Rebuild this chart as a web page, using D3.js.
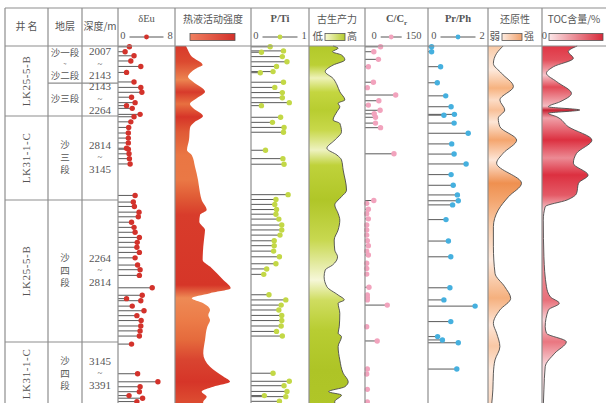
<!DOCTYPE html>
<html>
<head>
<meta charset="utf-8">
<script src="https://cdn.jsdelivr.net/npm/d3@7"></script>
<style>
  body { margin: 0; background: #fff; }
  svg { display: block; }
  text { font-family: "Liberation Serif", "Noto Sans CJK SC", serif; fill: #555; }
  .cjk { font-family: "Noto Sans CJK SC", "Noto Sans", sans-serif; }
</style>
</head>
<body>
<svg id="chart" width="606" height="403"></svg>
<script>
// ---------------- well sections stacked in the log ----------------
const sectionWells = ["LK25-5-B", "LK31-1-C", "LK25-5-B", "LK31-1-C"];
const sectionTop   = [2007, 2814, 2264, 3145];
const sectionBase  = [2264, 3145, 2814, 3391];

// stratigraphic intervals (section index, name, depth range in m)
const intervalSection = [0, 0, 1, 2, 3];
const intervalNames   = ["沙一段~沙二段", "沙三段", "沙三段", "沙四段", "沙四段"];
const intervalTop     = [2007, 2143, 2814, 2264, 3145];
const intervalBase    = [2143, 2264, 3145, 2814, 3391];

// ---------------- samples: [stacked depth (m), value] ----------------
const euSamples = [
  [3,1.6],[21,1.0],[36,2.25],[55,1.8],[75,3.2],[97,1.2],[132,2.25],[152,3.2],[170,3.35],[188,1.9],
  [208,2.4],[219,1.2],[229,2.0],[251,3.1],[260,2.25],[280,1.8],[302,1.5],[324,1.45],[344,1.45],[363,1.45],
  [384,1.2],[388,1.45],[406,1.55],[425,1.6],[446,1.7],[570,2.4],[596,2.15],[613,2.3],[635,2.95],[653,2.85],
  [674,1.9],[694,2.25],[713,2.4],[733,3.0],[752,2.7],[771,2.65],[791,3.0],[812,2.4],[840,2.75],[858,3.1],
  [880,3.0],[928,4.8],[957,3.4],[970,1.2],[978,3.2],[999,2.0],[1017,3.65],[1036,2.65],[1055,3.25],[1076,3.2],
  [1095,3.1],[1115,3.0],[1146,1.9],[1260,2.75],[1291,5.6],[1310,3.1],[1329,3.0],[1344,1.55],[1354,3.45],[1367,2.65]
];
const ptiSamples = [
  [3,0.33],[18,0.56],[23,0.18],[39,0.54],[58,0.62],[75,0.44],[94,0.38],[98,0.16],[133,0.56],[152,0.41],
  [171,0.54],[190,0.54],[208,0.66],[219,0.18],[262,0.51],[282,0.37],[302,0.57],[321,0.56],[392,0.25],[425,0.55],
  [447,0.57],[567,0.64],[586,0.43],[605,0.41],[625,0.44],[643,0.43],[662,0.48],[685,0.53],[704,0.53],[724,0.5],
  [746,0.4],[765,0.4],[786,0.39],[808,0.49],[835,0.43],[855,0.27],[876,0.22],[955,0.31],[975,0.6],[995,0.52],
  [1014,0.48],[1035,0.53],[1055,0.53],[1076,0.52],[1097,0.44],[1115,0.54],[1258,0.38],[1289,0.66],[1306,0.57],[1328,0.62],
  [1344,0.23],[1348,0.6],[1366,0.49]
];
const crSamples = [
  [3,37],[21,21],[49,32],[76,8],[133,20],[153,5.5],[180,73],[201,33],[217,8],[236,36],
  [249,22],[262,25],[285,25],[303,37],[406,69],[590,21],[601,4],[624,8],[641,4],[661,8],
  [685,4],[704,4],[724,4],[746,5.5],[765,8],[786,4],[801,8],[833,4],[853,4],[875,4],
  [926,9.5],[956,5.5],[966,5.5],[975,5.5],[995,53],[1079,4],[1134,29],[1242,5.5],[1261,4],[1320,5.5],[1368,5.5]
];
const prphSamples = [
  [3,0.12],[21,0.12],[76,0.42],[135,0.31],[183,0.59],[223,0.77],[251,0.88],[254,0.53],[285,0.87],[325,1.34],
  [367,0.79],[407,0.87],[446,1.27],[488,0.77],[530,0.84],[568,0.98],[591,1.01],[607,0.82],[664,0.6],[747,0.68],
  [808,0.76],[928,0.73],[975,0.53],[999,1.57],[1059,0.76],[1117,0.32],[1130,0.48],[1141,1.01],[1242,0.96]
];

// continuous profiles (relative 0–1)
const hydrothermal = [
  [0,0.145],[15,0.17],[39,0.22],[70,0.364],[81,0.29],[100,0.197],[113,0.171],[131,0.237],[168,0.395],[191,0.29],
  [213,0.197],[228,0.237],[257,0.368],[280,0.263],[304,0.197],[352,0.184],[391,0.158],[411,0.22],[457,0.263],[509,0.303],
  [560,0.329],[588,0.351],[627,0.417],[646,0.329],[672,0.32],[704,0.395],[730,0.386],[769,0.372],[820,0.364],[846,0.461],
  [898,0.636],[930,0.733],[949,0.461],[969,0.22],[988,0.372],[1014,0.461],[1034,0.438],[1053,0.461],[1079,0.425],[1130,0.395],
  [1181,0.372],[1233,0.461],[1271,0.636],[1291,0.724],[1310,0.504],[1329,0.351],[1348,0.417],[1367,0.372],[1384,0.368]
];
const productivity = [
  [0,0.43],[8,0.52],[21,0.42],[33,0.58],[51,0.64],[70,0.43],[94,0.29],[119,0.43],[143,0.5],[168,0.55],
  [198,0.64],[210,0.52],[223,0.55],[241,0.5],[273,0.43],[286,0.55],[319,0.58],[352,0.46],[384,0.32],[411,0.5],
  [430,0.58],[470,0.61],[549,0.67],[575,0.58],[588,0.52],[607,0.46],[640,0.52],[666,0.55],[704,0.52],[743,0.45],
  [782,0.46],[808,0.51],[840,0.42],[859,0.29],[885,0.27],[924,0.32],[956,0.52],[975,0.63],[988,0.52],[1027,0.55],
  [1079,0.54],[1104,0.52],[1117,0.58],[1156,0.52],[1207,0.55],[1258,0.61],[1291,0.7],[1310,0.64],[1329,0.35],[1342,0.58],
  [1367,0.46],[1384,0.46]
];
const reducibility = [
  [0,0.28],[27,0.16],[64,0.1],[100,0.25],[149,0.47],[198,0.22],[235,0.31],[266,0.19],[299,0.22],[352,0.53],
  [404,0.28],[443,0.16],[522,0.62],[575,0.38],[627,0.19],[691,0.1],[769,0.1],[872,0.13],[924,0.31],[969,0.42],
  [1014,0.22],[1066,0.1],[1104,0.16],[1156,0.22],[1207,0.13],[1258,0.1],[1322,0.09],[1384,0.065]
];
const tocProfile = [
  [0,0.55],[21,0.41],[45,0.49],[76,0.18],[100,0.07],[131,0.23],[174,0.46],[205,0.28],[223,0.1],[235,0.59],
  [247,0.1],[260,0.23],[299,0.41],[352,0.78],[404,0.54],[443,0.49],[490,0.72],[522,0.57],[562,0.54],[588,0.39],
  [614,0.05],[666,0.02],[808,0.03],[924,0.07],[963,0.13],[988,0.27],[1014,0.1],[1079,0.05],[1104,0.07],[1137,0.38],
  [1181,0.2],[1233,0.05],[1322,0.03],[1384,0.02]
];

// ---------------- header text ----------------
const headerTitles = ["井 名", "地层", "深度/m", "δEu", "热液活动强度", "P/Ti", "古生产力", "C/Cr", "Pr/Ph", "还原性", "TOC含量/%"];
const euTicks = ["0", "8"];
const ptiTicks = ["0", "1"];
const crTicks = ["0", "150"];
const prphTicks = ["0", "2"];
const productivityTicks = ["低", "高"];
const reducibilityTicks = ["弱", "强"];
const tocTicks = ["0"];

// ---------------- layout & style ----------------
const colEdges = [5, 48, 82, 118, 175, 251, 309, 365, 428, 488, 542, 606];
const headTop = 8, headBottom = 46;
const sectionHeights = [70, 84, 142, 64];
const gridColor = "#8e8e8e";

// shading bands along each profile (offset down the log, colour)
const hydroStops = [[0,"#d83a2b"],[0.044,"#dc4a30"],[0.094,"#ec8450"],[0.128,"#d73a2b"],[0.161,"#e87040"],[0.197,"#d63528"],
  [0.239,"#e05a35"],[0.303,"#ea7643"],[0.372,"#ea7845"],[0.422,"#e05a35"],[0.469,"#d83c2b"],[0.664,"#d63628"],
  [0.7,"#ee8a55"],[0.761,"#ec7c48"],[0.817,"#e56a3c"],[0.872,"#d94430"],[0.933,"#d63528"],[0.983,"#dc4a30"]];
const prodStops = [[0,"#b2c92a"],[0.053,"#bcd035"],[0.089,"#eef2b8"],[0.128,"#c4d640"],[0.178,"#b8cd30"],[0.233,"#c8d84a"],
  [0.289,"#eef2c0"],[0.331,"#bfd23a"],[0.428,"#b0c628"],[0.539,"#c8d850"],[0.65,"#f6f7d8"],[0.706,"#cfdd60"],
  [0.789,"#b8cd32"],[0.9,"#aec426"],[1,"#b0c628"]];
const reduStops = [[0,"#f9c9a5"],[0.033,"#fbdcc5"],[0.067,"#fde8da"],[0.117,"#f6b27f"],[0.15,"#fcdcc6"],[0.178,"#f8c098"],
  [0.211,"#fde6d6"],[0.261,"#f4a56e"],[0.317,"#fde6d8"],[0.381,"#ef9050"],[0.428,"#f3a56e"],[0.497,"#f9cba8"],
  [0.594,"#fde9dc"],[0.7,"#f5b07e"],[0.775,"#fde6d8"],[0.833,"#f9c8a5"],[0.9,"#fde9dc"],[1,"#fbd8c0"]];
const tocStops = [[0,"#e03645"],[0.039,"#e3505c"],[0.081,"#f6c4ca"],[0.114,"#e24a56"],[0.167,"#f4bcc2"],[0.178,"#c82030"],
  [0.2,"#f0a0a8"],[0.261,"#dc3040"],[0.311,"#ec8a94"],[0.358,"#dc3040"],[0.414,"#e45a66"],[0.456,"#f6c8cd"],
  [0.706,"#e8707a"],[0.761,"#f8d4d8"],[0.822,"#ea7680"],[0.886,"#f8d6da"],[1,"#fbe4e6"]];

// ---------------- scales ----------------
const svg = d3.select("#chart");
const defs = svg.append("defs");
svg.append("rect").attr("width", 606).attr("height", 403).attr("fill", "#fff");

const sectionLen = sectionTop.map((t, i) => sectionBase[i] - t);
// start of each section along the stacked column, plus the total length
const offsets = Array.from(d3.cumsum([0, ...sectionLen]));
const stacked = (s, depth) => offsets[s] + depth - sectionTop[s];
const yBreaks = [headBottom];
sectionHeights.forEach(h => yBreaks.push(yBreaks[yBreaks.length - 1] + h));
const y = d3.scaleLinear().domain(offsets).range(yBreaks);
const yTopPx = yBreaks[0], yBottomPx = yBreaks[yBreaks.length - 1];

const col = i => [colEdges[i], colEdges[i + 1]];
const colMid = i => (colEdges[i] + colEdges[i + 1]) / 2;

// ---------------- profiles ----------------
function profile(idx, data, stops, id, outline) {
  const [x0, x1] = col(idx);
  const x = d3.scaleLinear().domain([0, 1]).range([x0, x1]);
  const grad = defs.append("linearGradient").attr("id", id)
    .attr("gradientUnits", "userSpaceOnUse")
    .attr("x1", 0).attr("x2", 0).attr("y1", yTopPx).attr("y2", yBottomPx);
  grad.selectAll("stop").data(stops).join("stop")
    .attr("offset", d => d[0]).attr("stop-color", d => d[1]);
  const area = d3.area().curve(d3.curveMonotoneY)
    .y(d => y(d[0])).x0(x0).x1(d => x(d[1]));
  svg.append("path").datum(data).attr("d", area).attr("fill", `url(#${id})`);
  if (outline) {
    const edge = d3.line().curve(d3.curveMonotoneY).y(d => y(d[0])).x(d => x(d[1]));
    svg.append("path").datum(data).attr("d", edge)
      .attr("fill", "none").attr("stroke", "#4a4a4a").attr("stroke-width", 0.9);
  }
}
profile(4, hydrothermal, hydroStops, "gHydro", false);
profile(6, productivity, prodStops, "gProd", true);
profile(9, reducibility, reduStops, "gRedu", true);
profile(10, tocProfile, tocStops, "gToc", true);

// ---------------- lollipops ----------------
function lollipops(idx, data, domain, color) {
  const [x0, x1] = col(idx);
  const x = d3.scaleLinear().domain(domain).range([x0, x1]);
  const g = svg.append("g");
  g.selectAll("line").data(data).join("line")
    .attr("x1", x(domain[0])).attr("x2", d => x(d[1]))
    .attr("y1", d => y(d[0])).attr("y2", d => y(d[0]))
    .attr("stroke", "#5a5a5a").attr("stroke-width", 1);
  g.selectAll("circle").data(data).join("circle")
    .attr("cx", d => x(d[1])).attr("cy", d => y(d[0])).attr("r", 2.7)
    .attr("fill", color);
}
lollipops(3, euSamples, [0, 8], "#d3322b");
lollipops(5, ptiSamples, [0, 1], "#c3d846");
lollipops(7, crSamples, [0, 150], "#f2a3bd");
lollipops(8, prphSamples, [0, 2], "#45b0df");

// ---------------- grid ----------------
const grid = svg.append("g").attr("stroke", gridColor).attr("stroke-width", 1.2);
grid.append("line").attr("x1", colEdges[0]).attr("x2", 606).attr("y1", headTop).attr("y2", headTop);
grid.append("line").attr("x1", colEdges[0]).attr("x2", 606).attr("y1", headBottom).attr("y2", headBottom);
colEdges.slice(0, -1).forEach(xe => {
  grid.append("line").attr("x1", xe).attr("x2", xe).attr("y1", headTop).attr("y2", 403);
});
yBreaks.slice(1, -1).forEach(yb => {
  grid.append("line").attr("x1", colEdges[0]).attr("x2", colEdges[3]).attr("y1", yb).attr("y2", yb);
});
intervalTop.forEach((t, i) => {
  const s = intervalSection[i];
  if (t !== sectionTop[s]) {
    const yy = y(stacked(s, t));
    grid.append("line").attr("x1", colEdges[1]).attr("x2", colEdges[3]).attr("y1", yy).attr("y2", yy);
  }
});

// ---------------- header ----------------
const head = svg.append("g");
headerTitles.forEach((t, i) => {
  const ty = i < 3 ? 27 : 20;
  const txt = head.append("text").attr("x", colMid(i)).attr("y", ty)
    .attr("text-anchor", "middle").attr("dominant-baseline", "middle")
    .attr("font-size", 10.5);
  if (/[\u4e00-\u9fff]/.test(t)) txt.attr("class", "cjk").attr("font-size", 10);
  if (t === "C/Cr") {
    txt.attr("font-weight", "bold").text("C/C");
    txt.append("tspan").attr("font-size", 7).attr("dy", 3).text("r");
  } else {
    if (["P/Ti", "Pr/Ph"].includes(t)) txt.attr("font-weight", "bold");
    txt.text(t);
  }
});

const legendY = 37;
function lollipopLegend(idx, ticks, lineLen, color) {
  const cx = colMid(idx);
  const w0 = ticks[0].length * 5.3, w1 = ticks[1].length * 5.3;
  const total = w0 + lineLen + w1 + 8;
  let xs = cx - total / 2;
  head.append("text").attr("x", xs).attr("y", legendY).attr("dominant-baseline", "middle")
    .attr("font-size", 10.5).text(ticks[0]);
  const lx0 = xs + w0 + 4, lx1 = lx0 + lineLen;
  head.append("line").attr("x1", lx0).attr("x2", lx1).attr("y1", legendY).attr("y2", legendY)
    .attr("stroke", "#555").attr("stroke-width", 1);
  head.append("circle").attr("cx", (lx0 + lx1) / 2).attr("cy", legendY).attr("r", 2.4).attr("fill", color);
  head.append("text").attr("x", lx1 + 4).attr("y", legendY).attr("dominant-baseline", "middle")
    .attr("font-size", 10.5).text(ticks[1]);
}
lollipopLegend(3, euTicks, 34, "#d3322b");
lollipopLegend(5, ptiTicks, 35, "#c3d846");
lollipopLegend(7, crTicks, 21, "#f2a3bd");
lollipopLegend(8, prphTicks, 35, "#45b0df");

function rampLegend(idx, id, c0, c1, x, w, ticks) {
  const g = defs.append("linearGradient").attr("id", id);
  g.append("stop").attr("offset", 0).attr("stop-color", c0);
  g.append("stop").attr("offset", 1).attr("stop-color", c1);
  const rx = colEdges[idx] + x;
  head.append("rect").attr("x", rx).attr("y", legendY - 3.5).attr("width", w).attr("height", 7)
    .attr("fill", `url(#${id})`).attr("stroke", "#555").attr("stroke-width", 0.8);
  if (ticks && ticks[0]) {
    head.append("text").attr("x", rx - 2).attr("y", legendY).attr("text-anchor", "end")
      .attr("dominant-baseline", "middle").attr("font-size", 10.5)
      .attr("class", /[0-9]/.test(ticks[0]) ? null : "cjk").text(ticks[0]);
  }
  if (ticks && ticks[1]) {
    head.append("text").attr("x", rx + w + 2).attr("y", legendY)
      .attr("dominant-baseline", "middle").attr("font-size", 10).attr("class", "cjk").text(ticks[1]);
  }
}
rampLegend(4, "lgHydro", "#f08060", "#d3302a", 15, 45, null);
rampLegend(6, "lgProd", "#fafad6", "#b4cb2c", 16, 20, productivityTicks);
rampLegend(9, "lgRedu", "#fdebe0", "#f0a06a", 14, 20, reducibilityTicks);
rampLegend(10, "lgToc", "#fbe6e8", "#d82a3a", 7, 54, tocTicks);

// ---------------- section labels ----------------
const labels = svg.append("g");
sectionWells.forEach((w, s) => {
  const cy = (yBreaks[s] + yBreaks[s + 1]) / 2;
  labels.append("text")
    .attr("transform", `translate(${colMid(0) + 0.5},${cy}) rotate(-90)`)
    .attr("text-anchor", "middle").attr("dominant-baseline", "middle")
    .attr("font-size", 11).attr("letter-spacing", 0.6).text(w);
});
intervalNames.forEach((name, i) => {
  const s = intervalSection[i];
  const y0 = y(stacked(s, intervalTop[i])), y1 = y(stacked(s, intervalBase[i]));
  const cy = (y0 + y1) / 2;
  const tall = (y1 - y0) > 50;
  // stratum name: stacked characters in tall cells, rows of words in short ones
  let lines;
  if (tall) lines = Array.from(name);
  else lines = name.includes("~") ? [name.split("~")[0], "~", name.split("~")[1]] : [name];
  const step = tall ? 12.5 : 11.5;
  lines.forEach((ln, k) => {
    labels.append("text").attr("class", "cjk")
      .attr("x", colMid(1)).attr("y", cy + (k - (lines.length - 1) / 2) * step)
      .attr("text-anchor", "middle").attr("dominant-baseline", "middle")
      .attr("font-size", ln === "~" ? 6 : 9.5).attr("fill", "#7a7a7a").text(ln);
  });
  // depth range
  const dl = [String(intervalTop[i]), "~", String(intervalBase[i])];
  dl.forEach((ln, k) => {
    labels.append("text")
      .attr("x", colMid(2)).attr("y", cy + (k - 1) * 12)
      .attr("text-anchor", "middle").attr("dominant-baseline", "middle")
      .attr("font-size", ln === "~" ? 9 : 11).attr("fill", "#4a4a4a").text(ln);
  });
});
</script>
</body>
</html>
